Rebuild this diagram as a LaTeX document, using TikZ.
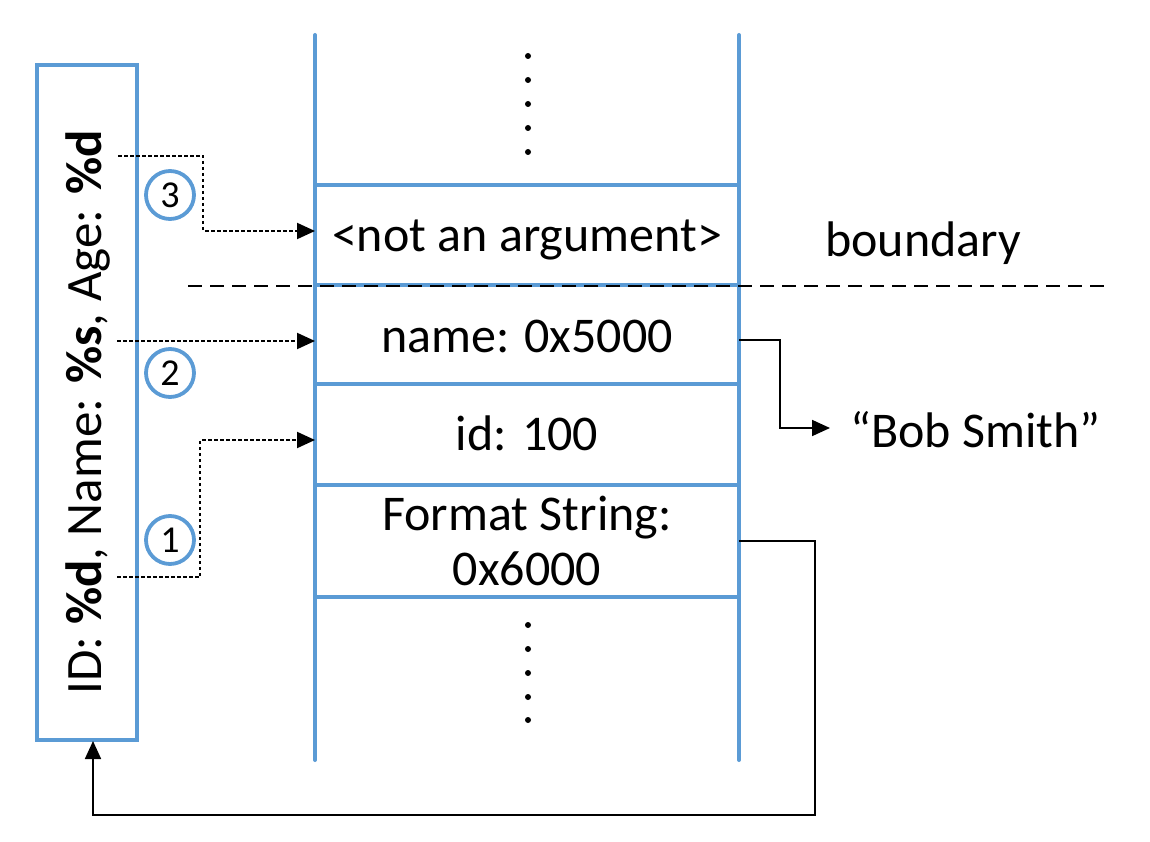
\documentclass[tikz,border=0pt]{standalone}
\usepackage{fontspec}
\setmainfont{Carlito}
\usetikzlibrary{arrows.meta}
\definecolor{sblue}{RGB}{91,155,213}
\begin{document}
\begin{tikzpicture}[x=1pt,y=-1pt,
  blueline/.style={draw=sblue,line width=4pt},
  cell/.style={font=\fontsize{50}{55}\selectfont,inner sep=0pt},
  numcirc/.style={circle,draw=sblue,line width=3.8pt,minimum size=48pt,inner sep=0pt,font=\fontsize{38}{40}\selectfont},
  dotarrow/.style={line width=2pt,dash pattern=on 3.5pt off 2.5pt,-{Triangle[length=18pt,width=16pt]}},
  solidarrow/.style={line width=1.8pt,-{Triangle[length=18pt,width=16pt]}},
  vdot/.style={circle,fill=black,inner sep=0pt,minimum size=6pt}]
\useasboundingbox (0,0) rectangle (1150,842);
% left format-string box
\draw[blueline] (37,65) rectangle (137,740);
\node[cell,rotate=90,font=\fontsize{51}{55}\selectfont] (fmt) at (88,412) {ID: \textbf{\%d}, Name: \textbf{\%s}, Age: \textbf{\%d}};
% stack walls
\draw[blueline,line cap=round] (315,35) -- (315,760);
\draw[blueline,line cap=round] (739,35) -- (739,760);
\foreach \yy in {185,285,384,485,597} \draw[blueline] (315,\yy) -- (739,\yy);
% dots
\foreach \yy [count=\i] in {56,80,104,128,152} \node[vdot] (td\i) at (528,\yy) {};
\foreach \yy [count=\i] in {625,649,673,697,720} \node[vdot] (bd\i) at (528,\yy) {};
% boundary
\draw[line width=1.8pt,dash pattern=on 14pt off 8pt] (188,286) -- (1105,286);
\node[cell] (bnd) at (923,243) {boundary};
% cell texts
\node[cell] (na) at (527,240) {<not an argument>};
\node[cell] (nm) at (527,336) {name: 0x5000};
\node[cell] (id) at (527,433) {id: 100};
\node[cell,align=center] (fs) at (527,541) {Format String:\\0x6000};
\node[cell,anchor=west] (bob) at (850,430) {“Bob Smith”};
% circled numbers
\node[numcirc] (c3) at (170,195) {3};
\node[numcirc] (c2) at (170,373) {2};
\node[numcirc] (c1) at (170,540) {1};
% coordinates for connectors
\coordinate (s3) at (118,156);
\coordinate (t3) at (315,231);
\coordinate (s2) at (117,341);
\coordinate (t2) at (315,341);
\coordinate (s1) at (117,577);
\coordinate (t1) at (315,440);
\coordinate (nmR) at (739,340);
\coordinate (bobL) at (830,428);
\coordinate (fsR) at (739,541);
\coordinate (fmtB) at (93,741);
% dotted arrows
\draw[dotarrow] (s3) -- (203,156) -- (203,231) -- (t3);
\draw[dotarrow] (s2) -- (t2);
\draw[dotarrow] (s1) -- (200,577) -- (200,440) -- (t1);
% solid arrows
\draw[solidarrow] (nmR) -- (780,340) -- (780,428) -- (bobL);
\draw[solidarrow] (fsR) -- (815,541) -- (815,815) -- (93,815) -- (fmtB);
\end{tikzpicture}
\end{document}
